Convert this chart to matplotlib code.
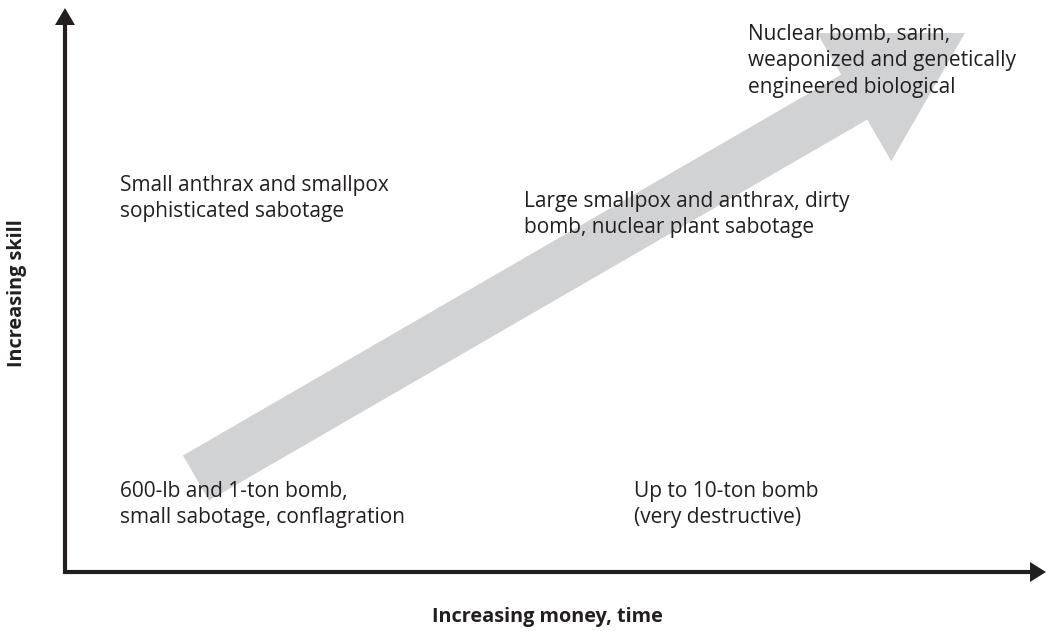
import matplotlib
matplotlib.use('Agg')
import matplotlib.pyplot as plt
from matplotlib.patches import FancyArrow, Polygon

plt.rcParams['font.family'] = ['Open Sans', 'DejaVu Sans']

# canvas in pixel units (y grows downward)
W, H = 1047, 631

# axes geometry
origin = (65, 572)
y_tip = 8
x_tip = 1046

# big trend arrow: tail centre -> tip
trend_tail = (196, 478)
trend_tip = (965, 33)
trend_width = 52
trend_head_width = 148
trend_head_length = 128

# labels placed on the chart (left x, top y)
labels = [
    'Nuclear bomb, sarin,\nweaponized and genetically\nengineered biological',
    'Small anthrax and smallpox\nsophisticated sabotage',
    'Large smallpox and anthrax, dirty\nbomb, nuclear plant sabotage',
    '600-lb and 1-ton bomb,\nsmall sabotage, conflagration',
    'Up to 10-ton bomb\n(very destructive)',
]
label_x = [748, 120, 524, 120, 634]
label_y = [24, 175, 191, 481, 481]

xlabel = 'Increasing money, time'
ylabel = 'Increasing skill'

AX_COLOR = '#231f20'
ARROW_COLOR = '#d1d2d4'

fig = plt.figure(figsize=(W / 100, H / 100), dpi=100)
ax = fig.add_axes([0, 0, 1, 1])
ax.set_xlim(0, W)
ax.set_ylim(H, 0)
ax.axis('off')

ax.add_patch(FancyArrow(trend_tail[0], trend_tail[1],
                        trend_tip[0] - trend_tail[0], trend_tip[1] - trend_tail[1],
                        width=trend_width, head_width=trend_head_width,
                        head_length=trend_head_length, length_includes_head=True,
                        color=ARROW_COLOR, lw=0, zorder=1))

# axes lines with triangle heads
ax.plot([origin[0], origin[0]], [origin[1] + 2, y_tip + 14], color=AX_COLOR, lw=3, solid_capstyle='butt', zorder=3)
ax.plot([origin[0] - 2, x_tip - 14], [origin[1], origin[1]], color=AX_COLOR, lw=3, solid_capstyle='butt', zorder=3)
ax.add_patch(Polygon([(origin[0], y_tip), (origin[0] - 10, y_tip + 17), (origin[0] + 10, y_tip + 17)],
                     closed=True, color=AX_COLOR, lw=0, zorder=3))
ax.add_patch(Polygon([(x_tip, origin[1]), (x_tip - 16, origin[1] - 10), (x_tip - 16, origin[1] + 10)],
                     closed=True, color=AX_COLOR, lw=0, zorder=3))

for txt, x, y in zip(labels, label_x, label_y):
    ax.text(x, y, txt, fontsize=15, color=AX_COLOR, ha='left', va='top',
            linespacing=1.33, zorder=4)

ax.text(547, 617, xlabel, fontsize=14.3, fontweight='bold', color=AX_COLOR,
        ha='center', va='center')
ax.text(17, 293, ylabel, fontsize=14.3, fontweight='bold', color=AX_COLOR,
        ha='center', va='center', rotation=90)

fig.savefig('out.png', dpi=100)
